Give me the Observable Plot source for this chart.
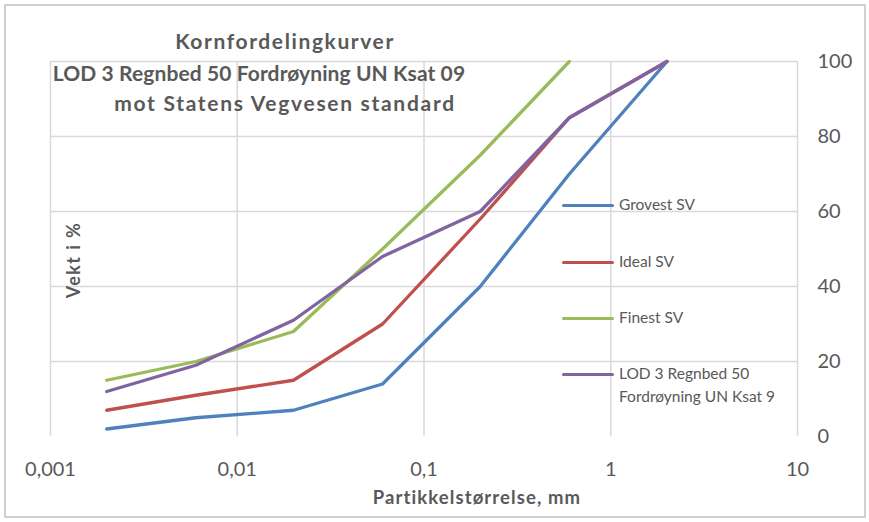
<!DOCTYPE html>
<html>
<head>
<meta charset="utf-8">
<script src="https://cdn.jsdelivr.net/npm/d3@7"></script>
<script src="https://cdn.jsdelivr.net/npm/@observablehq/plot@0.6"></script>
<style>
  body { margin: 0; background: #fff; }
  #wrap { position: relative; width: 869px; height: 522px; font-family: Lato, "Open Sans", sans-serif; color: #595959; }
  #wrap svg { position: absolute; left: 0; top: 0; }
  .ov { position: absolute; white-space: nowrap; }
  .title { font-weight: bold; font-size: 21px; transform: translateX(-50%); }
  .leg { font-size: 15.5px; line-height: 23px; }
  .sw { position: absolute; height: 3px; width: 52px; border-radius: 2px; }
</style>
</head>
<body>
<div id="wrap"></div>
<script>
// ---- data ----
const sizes = [0.002, 0.006, 0.02, 0.06, 0.2, 0.6, 2];
const seriesNames = ["Grovest SV", "Ideal SV", "Finest SV", "LOD 3 Regnbed 50 Fordrøyning UN Ksat 9"];
const grovest = [2, 5, 7, 14, 40, 70, 100];
const ideal   = [7, 11, 15, 30, 58, 85, 100];
const finest  = [15, 20, 28, 50, 75, 100];
const lod     = [12, 19, 31, 48, 60, 85, 100];
const seriesColors = ["#4F81BD", "#C0504D", "#9BBB59", "#8064A2"];
const xTicks = [0.001, 0.01, 0.1, 1, 10];
const yTicks = [0, 20, 40, 60, 80, 100];
const titleLines = ["Kornfordelingkurver", "LOD 3 Regnbed 50 Fordrøyning UN Ksat 09", "mot Statens Vegvesen standard"];
const xLabel = "Partikkelstørrelse, mm";
const yLabel = "Vekt i %";

const values = [grovest, ideal, finest, lod];
const rows = [];
values.forEach((arr, si) => arr.forEach((v, i) => rows.push({series: seriesNames[si], size: sizes[i], pct: v})));

const fmt = d => String(d).replace(".", ",");

const chart = Plot.plot({
  width: 869, height: 522,
  marginLeft: 50, marginRight: 72, marginTop: 61, marginBottom: 86,
  style: { fontFamily: "Lato, 'Open Sans', sans-serif", color: "#595959", background: "transparent" },
  x: { type: "log", domain: [0.001, 10] },
  y: { domain: [0, 100] },
  color: { domain: seriesNames, range: seriesColors },
  marks: [
    Plot.gridY(yTicks.filter(d => d > 0), { stroke: "#d9d9d9", strokeOpacity: 1, strokeWidth: 1.5 }),
    Plot.gridX(xTicks, { stroke: "#d9d9d9", strokeOpacity: 1, strokeWidth: 1.5 }),
    Plot.axisX(xTicks, { tickSize: 0, tickPadding: 25, tickFormat: fmt, fontSize: 20, label: null }),
    Plot.axisY(yTicks, { anchor: "right", tickSize: 0, tickPadding: 20, fontSize: 20, label: null }),
    Plot.line(rows, { x: "size", y: "pct", z: "series", stroke: "series", strokeWidth: 3.3, strokeLinejoin: "round", strokeLinecap: "round" })
  ]
});

const wrap = document.getElementById("wrap");
wrap.appendChild(chart);

// border
const border = document.createElement("div");
border.className = "ov";
Object.assign(border.style, { left: "4px", top: "4px", width: "858px", height: "510px", border: "2px solid #d0d0d0" });
wrap.appendChild(border);

// title
const titleX = [285, 259, 285];
const titleTop = [28, 60, 90];
const titleSpacing = [1.6, 0.1, 1.7];
titleLines.forEach((t, i) => {
  const d = document.createElement("div");
  d.className = "ov title";
  d.textContent = t;
  d.style.left = titleX[i] + "px";
  d.style.top = titleTop[i] + "px";
  d.style.letterSpacing = titleSpacing[i] + "px";
  wrap.appendChild(d);
});

// axis titles
const xl = document.createElement("div");
xl.className = "ov";
xl.textContent = xLabel;
Object.assign(xl.style, { left: "477px", top: "486px", fontWeight: "bold", fontSize: "18.5px", letterSpacing: "1.1px", transform: "translateX(-50%)" });
wrap.appendChild(xl);

const yl = document.createElement("div");
yl.className = "ov";
yl.textContent = yLabel;
Object.assign(yl.style, { left: "73px", top: "260px", fontWeight: "bold", fontSize: "18px", letterSpacing: "1.4px", transform: "translate(-50%,-50%) rotate(-90deg)" });
wrap.appendChild(yl);

// legend
const legY = [205, 262, 318, 374];
const legLabels = ["Grovest SV", "Ideal SV", "Finest SV", "LOD 3 Regnbed 50<br>Fordrøyning UN Ksat 9"];
legLabels.forEach((t, i) => {
  const s = document.createElement("div");
  s.className = "sw";
  s.style.left = "562px";
  s.style.top = (legY[i] - 1.5) + "px";
  s.style.background = seriesColors[i];
  wrap.appendChild(s);
  const d = document.createElement("div");
  d.className = "ov leg";
  d.innerHTML = t;
  d.style.left = "619px";
  d.style.top = (legY[i] - 12) + "px";
  wrap.appendChild(d);
});
</script>
</body>
</html>
